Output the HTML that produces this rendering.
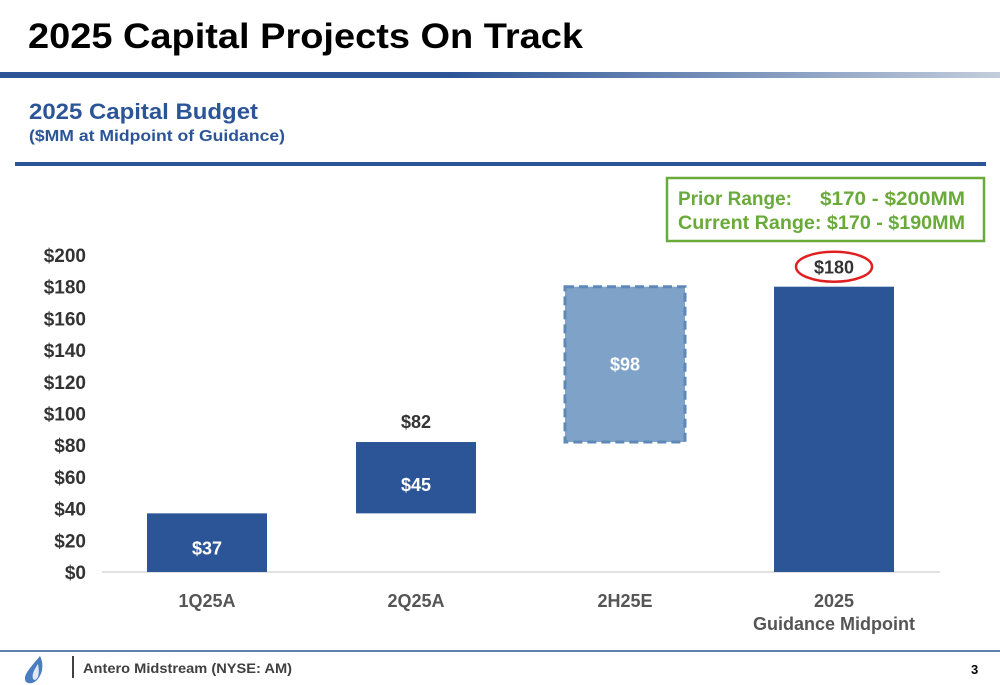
<!DOCTYPE html>
<html><head><meta charset="utf-8"><style>
body{margin:0;width:1000px;height:685px;overflow:hidden;background:#fff;font-family:"Liberation Sans",sans-serif}
svg{display:block}
</style></head><body>
<svg width="1000" height="685" viewBox="0 0 1000 685" xmlns="http://www.w3.org/2000/svg">
<defs><linearGradient id="g" x1="0" x2="1"><stop offset="0" stop-color="#2c5597"/><stop offset="0.45" stop-color="#2c5597"/><stop offset="1" stop-color="#c3cddc"/></linearGradient></defs>
<text x="28" y="48" font-size="35" font-weight="bold" fill="#000" textLength="555" lengthAdjust="spacingAndGlyphs">2025 Capital Projects On Track</text>
<rect x="0" y="72" width="1000" height="6" fill="url(#g)"/>
<text x="29" y="119" font-size="22" font-weight="bold" fill="#2c5597" textLength="229" lengthAdjust="spacingAndGlyphs">2025 Capital Budget</text>
<text x="29" y="141" font-size="16" font-weight="bold" fill="#2c5597" textLength="256" lengthAdjust="spacingAndGlyphs">($MM at Midpoint of Guidance)</text>
<rect x="15" y="162" width="971" height="4" fill="#2c5597"/>
<rect x="667" y="178" width="317" height="63" fill="#fff" stroke="#6aaa3a" stroke-width="2.5"/>
<text x="678" y="205" font-size="19" font-weight="bold" fill="#6aaa3a"><tspan textLength="114" lengthAdjust="spacingAndGlyphs">Prior Range:</tspan><tspan x="820" textLength="145" lengthAdjust="spacingAndGlyphs">$170 - $200MM</tspan></text>
<text x="678" y="229" font-size="19" font-weight="bold" fill="#6aaa3a" textLength="287" lengthAdjust="spacingAndGlyphs">Current Range: $170 - $190MM</text>
<g id="chart"></g>
<line x1="0" y1="651" x2="1000" y2="651" stroke="#2c5597" stroke-width="1.5"/>
<path d="M40 656 C30 668 22 676 26 682 C32 686 40 680 42 670 C43 664 42 660 40 656Z" fill="#4a7cc0"/>
<path d="M38 664 C33 671 31 677 34 680 C38 680 40 674 38 664Z" fill="#dfe8f4"/>
<line x1="73" y1="656" x2="73" y2="678" stroke="#000" stroke-width="1.5"/>
<text x="83" y="673" font-size="14" font-weight="bold" fill="#404040" textLength="209" lengthAdjust="spacingAndGlyphs">Antero Midstream (NYSE: AM)</text>
<text x="971" y="674" font-size="13" font-weight="bold" fill="#000">3</text>
</svg>
<script>
const categories=["1Q25A","2Q25A","2H25E","2025"];
const bases=[0,37,82,0];
const values=[37,45,98,180];
const labels=["$37","$45","$98","$180"];
const ticks=[0,20,40,60,80,100,120,140,160,180,200];
const NS="http://www.w3.org/2000/svg";
const g=document.getElementById('chart');
const y=v=>572-v*(317/200);
const x=i=>207+i*209;
function mk(t,a){const e=document.createElementNS(NS,t);for(const k in a)e.setAttribute(k,a[k]);g.appendChild(e);return e;}
ticks.forEach(t=>{const e=mk('text',{x:86,y:y(t)+7,'font-size':19,'font-weight':'bold','text-anchor':'end',fill:'#333'});e.textContent='$'+t;

});
const ax=mk('line',{x1:102,x2:940,y1:572,y2:572,stroke:'#d9d9d9','stroke-width':1.5});


categories.forEach((c,i)=>{
  const dashed=i===2;
  const r=mk('rect',{x:x(i)-60,width:120,y:y(bases[i]+values[i]),height:y(bases[i])-y(bases[i]+values[i]),fill:dashed?'#7fa3c8':'#2c5597'});
  if(dashed){r.setAttribute('stroke','#5e88b8');r.setAttribute('stroke-width','3');r.setAttribute('stroke-dasharray','9,5');}
  
  
  let ly;
  if(i===3){ly=y(values[i])-13;}else if(i===2){ly=y(bases[i]+values[i]*0.5)+6;}else{ly=y(bases[i]+values[i]*0.4)+6;}
  const t=mk('text',{x:x(i),y:ly,'font-size':18,'font-weight':'bold','text-anchor':'middle',fill:i===3?'#333':'#fff'});
  t.textContent=labels[i];
  
  
  const cl=mk('text',{x:x(i),y:607,'font-size':18,'font-weight':'bold','text-anchor':'middle',fill:'#555'});
  cl.textContent=c;
  
  
});
const tot=mk('text',{x:x(1),y:y(bases[1]+values[1])-14,'font-size':18,'font-weight':'bold','text-anchor':'middle',fill:'#333'});
tot.textContent='$'+(bases[1]+values[1]);


const el=mk('ellipse',{cx:x(3),cy:y(values[3])-20,rx:38,ry:15,fill:'none',stroke:'#e02020','stroke-width':2.5});


const gm=mk('text',{x:x(3),y:630,'font-size':18,'font-weight':'bold','text-anchor':'middle',fill:'#555'});
gm.textContent='Guidance Midpoint';


</script>
</body></html>
